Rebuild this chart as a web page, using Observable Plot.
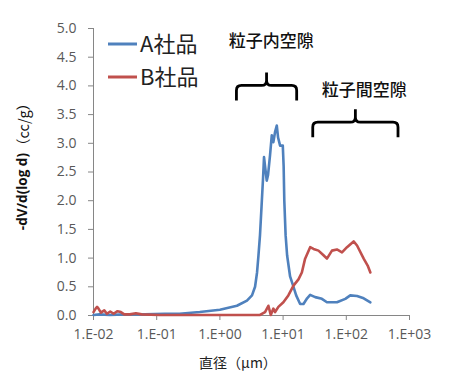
<!DOCTYPE html>
<html>
<head>
<meta charset="utf-8">
<script src="https://cdn.jsdelivr.net/npm/d3@7"></script>
<script src="https://cdn.jsdelivr.net/npm/@observablehq/plot@0.6"></script>
<style>
  html, body { margin: 0; padding: 0; background: #fff; }
  #chart { width: 458px; height: 378px; }
</style>
</head>
<body>
<div id="chart"></div>
<script>
// ---- data ----
const seriesNames = ["A社品", "B社品"];
const seriesColors = ["#4f81bd", "#c0504d"];

const aDiameter = [0.01, 0.0125, 0.018, 0.031, 0.065, 0.134, 0.23, 0.48, 1.0, 1.86, 2.68, 3.22, 3.6, 3.87, 4.08, 4.31, 4.56, 4.82, 4.99, 5.18, 5.51, 5.78, 6.22, 6.62, 7.02, 7.47, 7.94, 8.33, 8.96, 9.89, 10.2, 10.45, 10.96, 11.57, 12.9, 14.4, 16.1, 18.6, 21.0, 24.0, 26.8, 32.2, 41.1, 49.4, 71.1, 96.4, 115.6, 147.9, 188.4, 240.4];
const aValues   = [0.01, 0.02, 0.01, 0.02, 0.02, 0.03, 0.03, 0.06, 0.10, 0.17, 0.26, 0.35, 0.50, 0.75, 1.05, 1.40, 1.90, 2.40, 2.76, 2.60, 2.35, 2.45, 2.80, 3.14, 3.02, 3.20, 3.31, 3.10, 2.96, 2.96, 2.60, 2.00, 1.40, 1.05, 0.68, 0.52, 0.35, 0.20, 0.20, 0.30, 0.36, 0.32, 0.29, 0.23, 0.23, 0.29, 0.35, 0.34, 0.30, 0.23];

const bDiameter = [0.01, 0.0108, 0.0114, 0.012, 0.0131, 0.0148, 0.0163, 0.0184, 0.0208, 0.024, 0.0271, 0.0307, 0.0373, 0.0469, 0.0578, 0.112, 0.482, 2.99, 4.31, 5.18, 5.85, 6.38, 7.02, 7.47, 8.42, 10.1, 12.1, 14.6, 17.5, 19.8, 22.3, 26.8, 30.3, 36.3, 43.6, 49.4, 59.3, 71.1, 85.5, 102.6, 130.6, 147.9, 188.4, 217.8, 240.4];
const bValues   = [0.06, 0.12, 0.15, 0.12, 0.05, 0.09, 0.03, 0.07, 0.03, 0.075, 0.06, 0.02, 0.02, 0.04, 0.02, 0.01, 0.01, 0.01, 0.01, 0.06, 0.17, 0.01, 0.12, 0.06, 0.15, 0.23, 0.35, 0.52, 0.63, 0.75, 0.99, 1.19, 1.16, 1.13, 1.05, 0.99, 1.13, 1.15, 1.10, 1.19, 1.29, 1.22, 0.99, 0.87, 0.75];

const xTicks = [0.01, 0.1, 1, 10, 100, 1000];
const yTicks = [0, 0.5, 1.0, 1.5, 2.0, 2.5, 3.0, 3.5, 4.0, 4.5, 5.0];

const annoLabels = ["粒子内空隙", "粒子間空隙"];
const annoX = [6.5, 193];
const annoY = [4.77, 3.92];
const braceX1 = [1.86, 30];
const braceX2 = [16.7, 670];
const braceY = [4.0, 3.36];

const xLabel = "直径（µm）";
const yLabelMain = "-dV/d(log d)";
const yLabelUnit = "（cc/g）";

// ---- tables ----
const rows = [];
aDiameter.forEach((d, i) => rows.push({series: seriesNames[0], d, v: aValues[i]}));
bDiameter.forEach((d, i) => rows.push({series: seriesNames[1], d, v: bValues[i]}));
const annos = annoLabels.map((t, i) => ({t, x: annoX[i], y: annoY[i]}));
const braces = braceX1.map((x1, i) => ({x1, x2: braceX2[i], y: braceY[i]}));

const fmtX = d => {
  const e = Math.round(Math.log10(d));
  return "1.E" + (e < 0 ? "-" : "+") + String(Math.abs(e)).padStart(2, "0");
};

const CJK = "'Noto Sans CJK JP', 'Noto Sans', sans-serif";
const LAT = "'Open Sans', 'Liberation Sans', sans-serif";

const W = 458, H = 378, ML = 93, MR = 49, MT = 28, MB = 63;

function braceMark(index, scales) {
  const g = d3.create("svg:g");
  for (const b of braces) {
    const x1 = scales.x(b.x1), x2 = scales.x(b.x2), y = scales.y(b.y);
    const tip = (x1 + x2) / 2, r = 5, down = 15, up = 13;
    const p = `M${x1},${y + down}V${y + r}Q${x1},${y} ${x1 + r},${y}H${tip - r}Q${tip},${y} ${tip},${y - r}V${y - up}` +
              `M${tip},${y - r}Q${tip},${y} ${tip + r},${y}H${x2 - r}Q${x2},${y} ${x2},${y + r}V${y + down}`;
    g.append("path").attr("d", p).attr("fill", "none").attr("stroke", "#000")
      .attr("stroke-width", 2.8).attr("stroke-linejoin", "round");
  }
  return g.node();
}

function legendMark() {
  const g = d3.create("svg:g");
  seriesNames.forEach((name, i) => {
    const ly = MT + 16 + i * 33;
    g.append("line").attr("x1", ML + 15).attr("x2", ML + 44)
      .attr("y1", ly).attr("y2", ly).attr("stroke", seriesColors[i]).attr("stroke-width", 3);
    g.append("text").attr("x", ML + 47).attr("y", ly - 2)
      .attr("text-anchor", "start")
      .attr("dominant-baseline", "central")
      .attr("font-family", CJK).attr("font-size", 22).attr("fill", "#222").text(name);
  });
  return g.node();
}

function titlesMark() {
  const g = d3.create("svg:g");
  g.append("text").attr("x", 238).attr("y", H - MB + 47)
    .attr("text-anchor", "middle").attr("dominant-baseline", "central")
    .attr("font-family", CJK).attr("font-size", 14).attr("fill", "#222").text(xLabel);
  const t = g.append("text").attr("transform", `translate(22,163) rotate(-90)`)
    .attr("text-anchor", "middle").attr("dominant-baseline", "central").attr("fill", "#111");
  t.append("tspan").attr("font-family", LAT).attr("font-weight", "bold").attr("font-size", 13.5).text(yLabelMain);
  t.append("tspan").attr("font-family", CJK).attr("font-size", 14.5).text(yLabelUnit);
  return g.node();
}

const chart = Plot.plot({
  width: W,
  height: H,
  marginLeft: ML,
  marginRight: MR,
  marginTop: MT,
  marginBottom: MB,
  style: {background: "#fff", fontFamily: LAT},
  x: {type: "log", domain: [0.01, 1000]},
  y: {domain: [0, 5]},
  marks: [
    Plot.axisX(xTicks, {tickFormat: fmtX, tickSize: 5, tickPadding: 9, fontSize: 14, fill: "#595959", stroke: "#868686", label: null}),
    Plot.axisY(yTicks, {tickFormat: d => d.toFixed(1), tickSize: 5, tickPadding: 12, fontSize: 14, fill: "#595959", stroke: "#868686", label: null}),
    Plot.ruleY([0], {stroke: "#868686", strokeWidth: 1}),
    Plot.ruleX([0.01], {stroke: "#868686", strokeWidth: 1}),
    Plot.line(rows.filter(r => r.series === seriesNames[0]), {x: "d", y: "v", stroke: seriesColors[0], strokeWidth: 2.6, strokeLinejoin: "round"}),
    Plot.line(rows.filter(r => r.series === seriesNames[1]), {x: "d", y: "v", stroke: seriesColors[1], strokeWidth: 2.6, strokeLinejoin: "round"}),
    Plot.text(annos, {x: "x", y: "y", text: "t", fontSize: 17, fontFamily: CJK, fill: "#111", fontWeight: 500}),
    braceMark,
    legendMark,
    titlesMark
  ]
});
document.getElementById("chart").appendChild(chart);
</script>
</body>
</html>
